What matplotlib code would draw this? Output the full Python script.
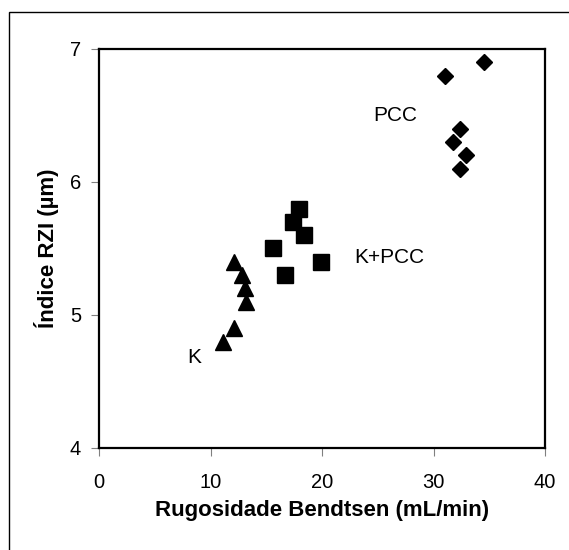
"""Índice RZI vs Rugosidade Bendtsen"""
import matplotlib
matplotlib.use('Agg')
from matplotlib import pyplot as plt
from matplotlib.patches import Rectangle

plt.rcParams['font.family'] = ['Liberation Sans', 'DejaVu Sans']

# K
k_x = [12.1, 12.8, 13.1, 13.2, 12.1, 11.1]
k_y = [5.4, 5.3, 5.2, 5.1, 4.9, 4.8]
# K+PCC
kpcc_x = [17.9, 17.4, 18.4, 15.6, 19.9, 16.7]
kpcc_y = [5.8, 5.7, 5.6, 5.5, 5.4, 5.3]
# PCC
pcc_x = [34.5, 31.0, 32.4, 31.7, 32.9, 32.4]
pcc_y = [6.9, 6.8, 6.4, 6.3, 6.2, 6.1]

labels = ['K', 'K+PCC', 'PCC']
label_pos = [(8.5, 4.68), (26.0, 5.43), (26.6, 6.5)]

x_ticks = [0, 10, 20, 30, 40]
y_ticks = [4, 5, 6, 7]


def plot():
    fig = plt.figure(figsize=(5.69, 5.50), dpi=100)
    ax = fig.add_axes([0.174, 0.1855, 0.784, 0.7255])

    ax.plot(k_x, k_y, '^', color='black', markersize=11, linestyle='none')
    ax.plot(kpcc_x, kpcc_y, 's', color='black', markersize=11, linestyle='none')
    ax.plot(pcc_x, pcc_y, 'D', color='black', markersize=8.5, linestyle='none')

    for text, (x, y) in zip(labels, label_pos):
        ax.text(x, y, text, fontsize=15, ha='center', va='center')

    ax.set_xlim(0, 40)
    ax.set_ylim(4, 7)
    ax.set_xticks(x_ticks)
    ax.set_yticks(y_ticks)
    ax.tick_params(direction='out', length=6, width=0.8, color='#808080',
                   labelsize=14.5, pad=7)
    ax.tick_params(axis='x', pad=12)
    for s in ax.spines.values():
        s.set_linewidth(1.6)

    ax.set_xlabel('Rugosidade Bendtsen (mL/min)', fontsize=16, fontweight='bold', labelpad=6)
    ax.set_ylabel('Índice RZI (µm)', fontsize=16, fontweight='bold', labelpad=8)

    # outer frame, right and bottom edges fall outside the picture
    fig.patches.append(Rectangle((0.0158, -0.1), 1.2, 1.078, transform=fig.transFigure,
                                 fill=False, edgecolor='black', linewidth=1))

    fig.savefig('out.png', dpi=100)


if __name__ == '__main__':
    plot()
